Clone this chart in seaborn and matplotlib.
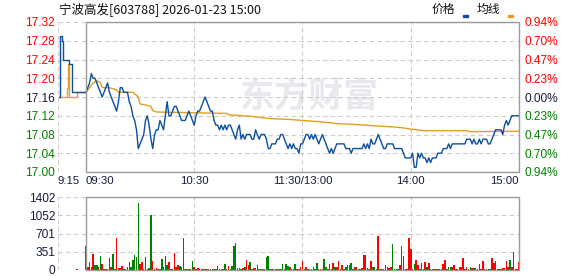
import numpy as np
import pandas as pd
import matplotlib
matplotlib.use("Agg")
import matplotlib.pyplot as plt
import seaborn as sns
from matplotlib.patches import Rectangle
from matplotlib import transforms

sns.set_theme(style="white")
plt.rcParams['font.family'] = ['Liberation Sans', 'Noto Sans CJK SC', 'DejaVu Sans']

# ---------------- data ----------------
title_text = "宁波高发[603788] 2026-01-23 15:00"
legend_labels = ["价格", "均线"]
watermark_text = "东方财富"

# pre-market (9:15-9:30), minutes relative to 9:30
pre_minutes = [-15.0, -14.4, -13.5, -12.9, -9.6, -7.9, 0.0]
pre_price = [17.16, 17.29, 17.28, 17.24, 17.23, 17.17, 17.17]
pre_avg_minutes = [-15.0, -10.7, -10.0, -9.2, -4.8, 0.0]
pre_avg = [17.16, 17.18, 17.23, 17.16, 17.17, 17.17]

# session minute prices, 0 = 09:30 ... 240 = 15:00
price = [
    17.17, 17.18, 17.19, 17.21, 17.20, 17.20, 17.19, 17.18, 17.17, 17.16,
    17.17, 17.18, 17.19, 17.17, 17.16, 17.15, 17.14, 17.13, 17.15, 17.18,
    17.18, 17.17, 17.17, 17.17, 17.15, 17.14, 17.12, 17.11, 17.09, 17.05,
    17.06, 17.07, 17.08, 17.11, 17.12, 17.10, 17.07, 17.05, 17.08, 17.09,
    17.09, 17.11, 17.10, 17.09, 17.12, 17.15, 17.12, 17.12, 17.13, 17.14,
    17.14, 17.13, 17.12, 17.11, 17.11, 17.11, 17.12, 17.13, 17.12, 17.11,
    17.10, 17.12, 17.13, 17.13, 17.14, 17.15, 17.16, 17.15, 17.14, 17.13,
    17.13, 17.11, 17.10, 17.10, 17.09, 17.10, 17.09, 17.10, 17.09, 17.10,
    17.10, 17.09, 17.08, 17.07, 17.09, 17.10, 17.07, 17.08, 17.07, 17.08,
    17.08, 17.08, 17.07, 17.07, 17.09, 17.08, 17.07, 17.08, 17.08, 17.08,
    17.07, 17.05, 17.05, 17.06, 17.06, 17.06, 17.07, 17.07, 17.08, 17.08,
    17.07, 17.06, 17.05, 17.06, 17.05, 17.06, 17.05, 17.05, 17.04, 17.06,
    17.06, 17.07, 17.08, 17.08, 17.07, 17.08, 17.07, 17.08, 17.07, 17.06,
    17.07, 17.08, 17.07, 17.06, 17.05, 17.04, 17.05, 17.04, 17.05, 17.06,
    17.06, 17.06, 17.06, 17.06, 17.05, 17.05, 17.05, 17.04, 17.05, 17.05,
    17.05, 17.05, 17.05, 17.05, 17.06, 17.05, 17.06, 17.05, 17.07, 17.06,
    17.06, 17.07, 17.08, 17.07, 17.06, 17.05, 17.05, 17.06, 17.06, 17.06,
    17.06, 17.05, 17.05, 17.05, 17.05, 17.05, 17.04, 17.03, 17.03, 17.03,
    17.03, 17.04, 17.01, 17.01, 17.04, 17.03, 17.04, 17.03, 17.03, 17.02,
    17.03, 17.02, 17.03, 17.03, 17.03, 17.04, 17.04, 17.04, 17.05, 17.05,
    17.05, 17.06, 17.05, 17.06, 17.06, 17.06, 17.06, 17.06, 17.06, 17.06,
    17.06, 17.07, 17.07, 17.07, 17.06, 17.07, 17.06, 17.06, 17.07, 17.06,
    17.07, 17.07, 17.07, 17.06, 17.06, 17.07, 17.08, 17.09, 17.09, 17.09,
    17.09, 17.08, 17.10, 17.11, 17.10, 17.11, 17.12, 17.12, 17.12, 17.12,
    17.12,
]

# average price line (read at its turning points)
avg_minutes = [0, 2, 4, 6, 8, 9, 13, 17, 18, 26, 27, 29, 30, 33, 36, 37, 39,
               78, 79, 91, 95, 102, 113, 120, 130, 140, 147, 162, 171, 176,
               181, 188, 211, 213, 240]
avg_price = [17.170, 17.180, 17.190, 17.195, 17.190, 17.180, 17.180, 17.175,
             17.170, 17.170, 17.167, 17.160, 17.145, 17.143, 17.140, 17.131,
             17.128, 17.125, 17.122, 17.119, 17.117, 17.114, 17.112, 17.110,
             17.107, 17.103, 17.102, 17.098, 17.096, 17.094, 17.091, 17.088,
             17.088, 17.086, 17.087]

# volume (auction bar at 9:25, then one bar per session minute)
auction_minute = -5
auction_volume = 20
auction_dir = "R"
volume = [
    470, 64, 160, 50, 315, 100, 100, 50, 275, 115,
    20, 20, 20, 225, 65, 310, 20, 610, 30, 30,
    85, 20, 20, 50, 160, 65, 200, 295, 245, 1290,
    120, 160, 20, 245, 20, 30, 1050, 180, 20, 30,
    20, 20, 220, 50, 275, 95, 160, 20, 20, 330,
    50, 100, 85, 65, 610, 20, 20, 20, 20, 180,
    65, 20, 30, 20, 20, 20, 20, 20, 20, 20,
    20, 20, 20, 85, 20, 20, 20, 120, 20, 85,
    20, 85, 470, 520, 30, 30, 20, 30, 50, 200,
    100, 150, 20, 30, 30, 95, 20, 20, 20, 20,
    245, 275, 20, 20, 20, 20, 20, 20, 20, 115,
    20, 115, 70, 65, 20, 20, 115, 20, 20, 50,
    175, 20, 65, 20, 15, 15, 50, 20, 140, 15,
    15, 15, 210, 50, 20, 115, 20, 140, 50, 65,
    175, 20, 95, 20, 50, 95, 95, 135, 20, 65,
    65, 20, 20, 30, 290, 290, 30, 20, 175, 65,
    65, 20, 655, 20, 20, 20, 95, 65, 30, 65,
    500, 20, 20, 20, 95, 465, 270, 20, 15, 615,
    405, 20, 115, 190, 95, 20, 140, 20, 150, 65,
    130, 15, 15, 15, 20, 15, 15, 15, 110, 190,
    15, 50, 50, 50, 95, 15, 15, 50, 50, 240,
    20, 65, 15, 50, 40, 30, 40, 15, 115, 15,
    175, 15, 15, 15, 15, 240, 135, 175, 15, 15,
    15, 40, 40, 175, 50, 190, 50, 355, 15, 15,
    150,
]
volume_dir = list(
    "RRRGRGGRGR" "RRRGRGRRRR" "RRRGGGGGGG" "RRRRRGGRRR" "RRGRRGRRRR"
    "RRGGRRRRRG" "RRRRGRRGRG" "RGRGRRRGGR" "GGGRRGGRGR" "RGRRRGRRRR"
    "GGRRRRRRRG" "RGGRRRGRRR" "RRRRGRGRGR" "RRGGRGRRGR" "RRRRGRRGRR"
    "RRRRRGRRRG" "GRRRGGRRRR" "GRRRRRGGRR" "RRGRRRRRRG" "RRRRRRRRRR"
    "RGGRRRRRRR" "RRRGRGRRGR" "RRRGGRRRRR" "RRRRRGRRRR" "R"
)

price_ticks = [17.00, 17.04, 17.08, 17.12, 17.16, 17.20, 17.24, 17.28, 17.32]
price_tick_labels = ["17.00", "17.04", "17.08", "17.12", "17.16",
                     "17.20", "17.24", "17.28", "17.32"]
pct_tick_labels = ["0.94%", "0.70%", "0.47%", "0.23%", "0.00%",
                   "0.23%", "0.47%", "0.70%", "0.94%"]
tick_sign = [-1, -1, -1, -1, 0, 1, 1, 1, 1]
vol_ticks = [0, 351, 701, 1052, 1402]
vol_tick_labels = ["0", "351", "701", "1052", "1402"]
time_labels = ["9:15", "09:30", "10:30", "11:30/13:00", "14:00", "15:00"]

# ---------------- styles ----------------
BLUE = "#0B4FA0"
GOLD = "#E0A020"
RED = "#FF0000"
GREEN = "#008000"
NAVY = "#151B3A"
GRIDC = "#CCCCCC"
BOXC = "#9A9A9A"
sign_color = {-1: GREEN, 0: NAVY, 1: RED}

W, H = 578, 276
fig = plt.figure(figsize=(W / 100, H / 100), dpi=100)
ax = fig.add_axes([58 / W, 1 - 172 / H, 461 / W, 150 / H])
axv = fig.add_axes([58 / W, 1 - 270 / H, 461 / W, 73 / H])

XMIN, XMAX = -15.5, 240
time_tick_pos = [XMIN, 0, 60, 120, 180, 240]

# watermark (placed in figure pixels, behind the axes content)
fig.text(309 / W, 1 - 96 / H, watermark_text, fontsize=25, fontweight="bold",
         color="#E8E8EE", ha="center", va="center",
         family=["Noto Sans CJK SC"], zorder=-1)

# lines
pre_df = pd.DataFrame({"t": pre_minutes, "p": pre_price})
pre_avg_df = pd.DataFrame({"t": pre_avg_minutes, "p": pre_avg})
avg_df = pd.DataFrame({"t": avg_minutes, "p": avg_price})
price_df = pd.DataFrame({"t": np.arange(len(price)), "p": price})

sns.lineplot(data=pre_avg_df, x="t", y="p", ax=ax, color=GOLD, linewidth=1.0,
             drawstyle="steps-post", estimator=None, zorder=3)
sns.lineplot(data=pre_df, x="t", y="p", ax=ax, color=BLUE, linewidth=1.0,
             drawstyle="steps-post", estimator=None, zorder=4)
sns.lineplot(data=avg_df, x="t", y="p", ax=ax, color=GOLD, linewidth=1.0,
             estimator=None, zorder=3)
sns.lineplot(data=price_df, x="t", y="p", ax=ax, color=BLUE, linewidth=1.0,
             estimator=None, zorder=4)

ax.patch.set_alpha(0)
ax.set_xlim(XMIN, XMAX)
ax.set_ylim(price_ticks[0], price_ticks[-1])
ax.set_xlabel("")
ax.set_ylabel("")
ax.set_yticks(price_ticks)
ax.set_yticklabels(price_tick_labels)
for lab, s in zip(ax.get_yticklabels(), tick_sign):
    lab.set_color(sign_color[s])
ax.set_xticks(time_tick_pos)
ax.set_xticklabels(time_labels)
xl = ax.get_xticklabels()
xl[0].set_ha("left")
xl[1].set_ha("left")
xl[-1].set_ha("right")
ax.tick_params(axis="x", length=0, pad=3, labelsize=8.2, labelcolor=NAVY)
ax.tick_params(axis="y", length=0, pad=2, labelsize=8.6)
ax.grid(True, color=GRIDC, linestyle=(0, (4, 3)), linewidth=0.8)
ax.set_axisbelow(True)
for sp in ax.spines.values():
    sp.set_visible(False)
trans = transforms.blended_transform_factory(ax.transData, ax.transAxes)
ax.add_patch(Rectangle((0, 0), 240, 1, transform=trans, fill=False,
                       edgecolor=BOXC, linewidth=1.0, clip_on=False, zorder=5))

ax2 = ax.twinx()
ax2.set_ylim(ax.get_ylim())
ax2.set_yticks(price_ticks)
ax2.set_yticklabels(pct_tick_labels)
for lab, s in zip(ax2.get_yticklabels(), tick_sign):
    lab.set_color(sign_color[s])
ax2.tick_params(axis="y", length=0, pad=4, labelsize=8.6)
ax2.grid(False)
ax2.patch.set_alpha(0)
for sp in ax2.spines.values():
    sp.set_visible(False)

# volume
vol_df = pd.DataFrame({
    "t": [auction_minute] + list(range(len(volume))),
    "v": [auction_volume] + volume,
    "d": [auction_dir] + volume_dir,
})
sns.barplot(data=vol_df, x="t", y="v", hue="d", palette={"R": RED, "G": GREEN},
            native_scale=True, dodge=False, width=0.85, linewidth=0,
            saturation=1, legend=False, errorbar=None, ax=axv, zorder=3)
axv.set_xlim(XMIN, XMAX)
axv.set_ylim(vol_ticks[0], vol_ticks[-1])
axv.set_xlabel("")
axv.set_ylabel("")
axv.set_yticks(vol_ticks)
axv.set_yticklabels(vol_tick_labels)
axv.set_xticks([XMIN, 60, 120, 180])
axv.tick_params(axis="x", length=0, labelbottom=False)
axv.tick_params(axis="y", length=0, pad=2, labelsize=8.6, labelcolor=NAVY)
axv.grid(True, color=GRIDC, linestyle=(0, (4, 3)), linewidth=0.8)
axv.set_axisbelow(True)
for sp in axv.spines.values():
    sp.set_visible(False)
transv = transforms.blended_transform_factory(axv.transData, axv.transAxes)
axv.add_patch(Rectangle((0, 0), 240, 1, transform=transv, fill=False,
                        edgecolor=BOXC, linewidth=1.0, clip_on=False, zorder=5))

# title and legend
fig.text(59 / W, 1 - 9.5 / H, title_text, fontsize=9,
         family=["Noto Sans CJK SC", "DejaVu Sans"], color="#111111",
         ha="left", va="center")
fig.text(432 / W, 1 - 9.5 / H, legend_labels[0], fontsize=8.5,
         family=["Noto Sans CJK SC"], color="#111111", ha="left", va="center")
fig.text(477 / W, 1 - 9.5 / H, legend_labels[1], fontsize=8.5,
         family=["Noto Sans CJK SC"], color="#111111", ha="left", va="center")
fig.add_artist(Rectangle((463 / W, 1 - 17 / H), 5 / W, 2 / H,
                         transform=fig.transFigure, color=BLUE))
fig.add_artist(Rectangle((508 / W, 1 - 17 / H), 5 / W, 2 / H,
                         transform=fig.transFigure, color=GOLD))

fig.savefig("out.png", dpi=100)
